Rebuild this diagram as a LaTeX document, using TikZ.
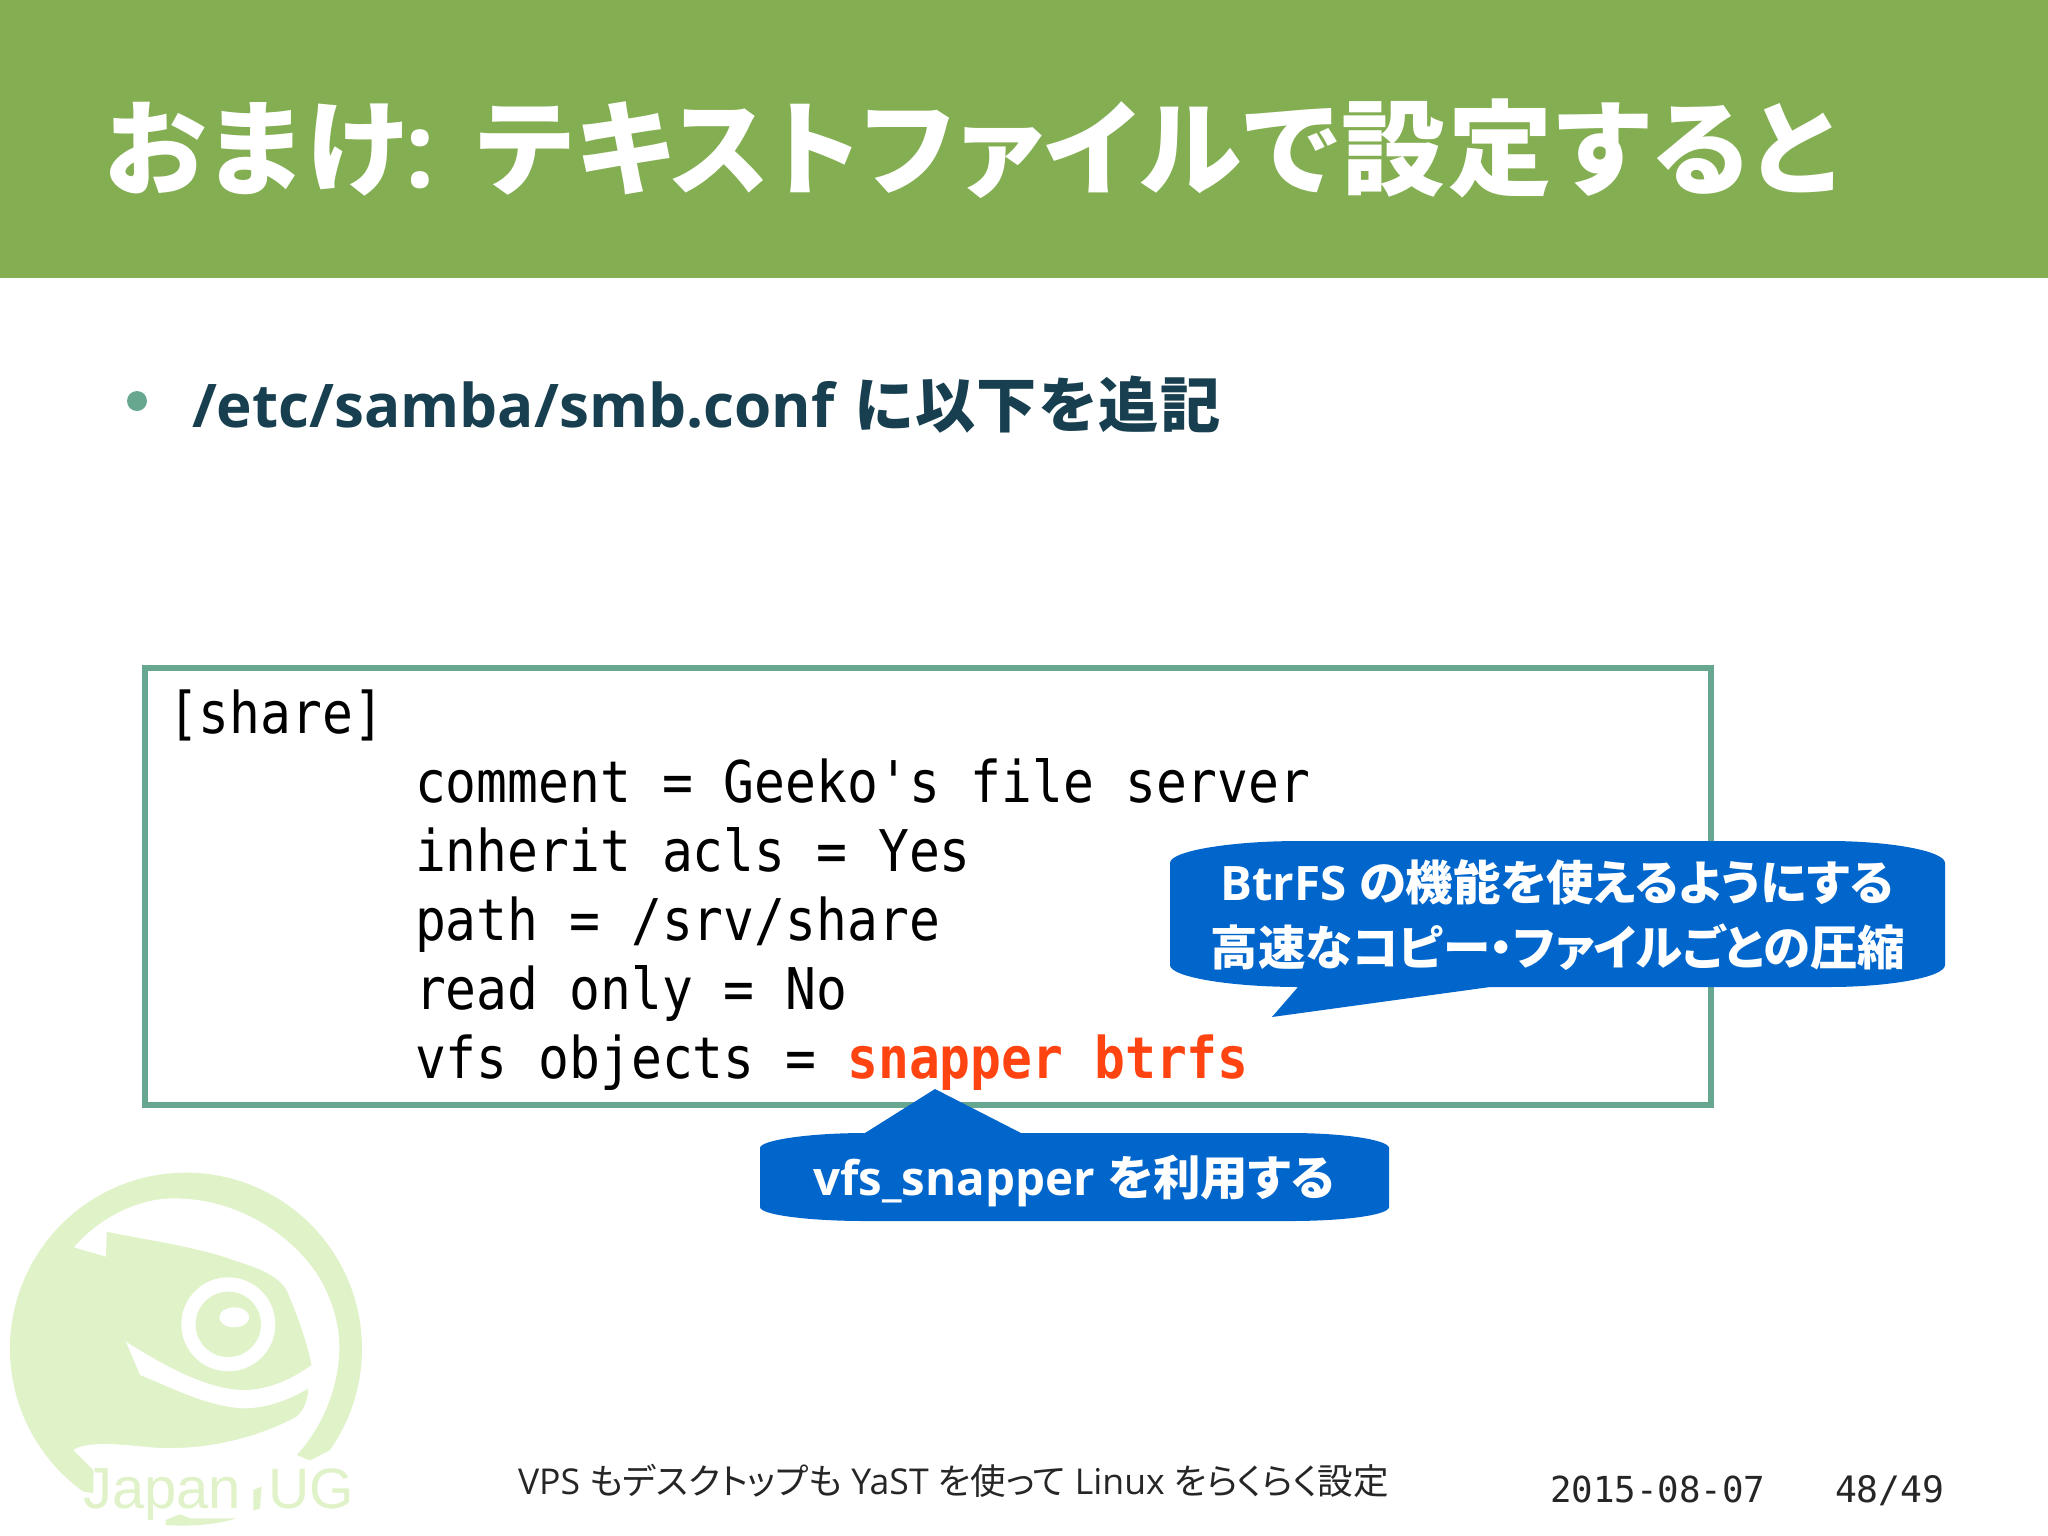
\documentclass[tikz,border=0pt]{standalone}
\usepackage{fontspec}
\setmainfont{Open Sans}
\newfontfamily\logofont{Liberation Sans}
\newfontfamily\cjk[RawFeature=+palt]{Noto Sans CJK JP}
\newfontfamily\cjkw[RawFeature=+palt,LetterSpace=2.8]{Noto Sans CJK JP}
\newfontfamily\mono[FakeStretch=0.892]{DejaVu Sans Mono}
\newfontfamily\monob[FakeStretch=0.892]{DejaVu Sans Mono Bold}
\newfontfamily\monop{DejaVu Sans Mono}
\newcommand{\J}[1]{{\cjk #1}}
\newcommand{\W}[1]{{\cjkw #1}}
\newcommand{\fs}[1]{\fontsize{#1}{#1}\selectfont}
\definecolor{headgreen}{HTML}{83AE52}
\definecolor{boxgreen}{HTML}{67A78F}
\definecolor{navy}{HTML}{173F4F}
\definecolor{callblue}{HTML}{0066CC}
\definecolor{hot}{HTML}{FF4411}
\definecolor{logo}{HTML}{E0F2C8}
\tikzset{
  txt/.style={inner sep=0pt,outer sep=0pt,anchor=base west},
  code/.style={txt,text=black,font=\mono\fs{57.5}},
  call/.style={txt,anchor=center,text=white,font=\bfseries\fs{47.5}},
  callshape/.style={fill=callblue,draw=none}
}
\begin{document}
\begin{tikzpicture}[x=1pt,y=-1pt]
\useasboundingbox (0,0) rectangle (2048,1535);
\fill[white] (0,0) rectangle (2048,1535);
\fill[headgreen] (0,0) rectangle (2048,278);
\node[txt,text=white,font=\bfseries\fs{104}] (title) at (105,187) {\W{おまけ}:\hspace{6pt} \W{テキストファイルで設定すると}};
\fill[boxgreen] (137,401) circle (10);
\node[txt,text=navy,font=\bfseries\fs{60.2}] (item) at (192,427) {/etc/samba/smb.conf\hspace{5pt} \W{に以下を追記}};
% logo
\begin{scope}[shift={(0,1130)},x=0.3333pt,y=-0.3333pt]
\fill[logo] (558,656) circle (528);
\fill[white] (222,352) .. controls (300,260) and (420,205) .. (520,205)
  .. controls (700,205) and (860,300) .. (950,430)
  .. controls (1000,510) and (1018,590) .. (1018,650)
  .. controls (1018,780) and (960,900) .. (890,975)
  -- (930,992) -- (992,960) -- (1120,1000) -- (1120,1215) -- (180,1215) -- (180,1085) -- (250,1085) -- (280,1090) -- (280,1020) -- (220,960)
  .. controls (260,935) and (340,940) .. (450,952)
  .. controls (620,965) and (780,920) .. (890,860)
  .. controls (915,840) and (925,800) .. (925,775)
  .. controls (860,815) and (790,835) .. (730,835)
  .. controls (620,830) and (510,770) .. (420,735)
  -- (378,635)
  .. controls (480,700) and (620,780) .. (730,780)
  .. controls (810,780) and (880,745) .. (935,705)
  .. controls (920,630) and (890,550) .. (860,480)
  .. controls (830,430) and (760,410) .. (700,390)
  .. controls (590,350) and (440,330) .. (320,305)
  -- (318,380) -- cycle;
\fill[white] (685,583) circle (141);
\fill[logo] (685,583) circle (98);
\fill[white] (703,562) ellipse (45 and 30);
\fill[logo] (497,1170) -- (540,1153) -- (570,1165) -- (710,1165) .. controls (650,1185) and (560,1190) .. (497,1185) -- cycle;
\fill[logo] (760,1080) -- (785,1070) -- (780,1135) -- (760,1142) -- cycle;
\end{scope}
\node[txt,text=logo,font=\logofont\fs{58}] (japan) at (83,1508) {Japan};
\node[txt,text=logo,font=\logofont\fs{57}] (ug) at (268,1508) {UG};
% code box
\draw[boxgreen,line width=5.5] (145,668) rectangle (1711,1105);
\node[code] (l0) at (168,733.5) {[share]};
\node[code] (l1) at (415,802) {comment = Geeko's file server};
\node[code] (l2) at (415,871) {inherit acls = Yes};
\node[code] (l3) at (415,940) {path = /srv/share};
\node[code] (l4) at (415,1009) {read only = No};
\node[code] (l5) at (415,1078) {vfs objects = {\monob\color{hot}snapper btrfs}};
% callouts
\fill[callshape] (1170,863) .. controls (1170,851) and (1230,841) .. (1300,841) -- (1829,841)
  .. controls (1890,841) and (1945,851) .. (1945,863) -- (1945,965)
  .. controls (1945,977) and (1890,987) .. (1829,987) -- (1490,987) -- (1272,1017) -- (1298,987) -- (1300,987)
  .. controls (1230,987) and (1170,977) .. (1170,965) -- cycle;
\node[call] (c1a) at (1557,882) {BtrFS \J{の機能を使えるようにする}};
\node[call] (c1b) at (1558,947) {\J{高速なコピー・ファイルごとの圧縮}};
\fill[callshape] (760,1148) .. controls (760,1140) and (810,1133) .. (865,1133) -- (935,1089) -- (1021,1133) -- (1290,1133)
  .. controls (1345,1133) and (1389,1140) .. (1389,1148) -- (1389,1207)
  .. controls (1389,1215) and (1345,1221) .. (1290,1221) -- (865,1221)
  .. controls (810,1221) and (760,1215) .. (760,1207) -- cycle;
\node[call] (c2) at (1074,1181) {vfs\_snapper \J{を利用する}};
% footer
\node[txt,text=black!85,font=\fs{35.6}] (foot) at (518,1494) {VPS \J{もデスクトップも} YaST \J{を使って} Linux \J{をらくらく設定}};
\node[txt,text=black!85,font=\monop\fs{35.8}] (date) at (1550,1502) {2015-08-07};
\node[txt,text=black!85,font=\monop\fs{36.4}] (page) at (1835,1502) {48/49};
\end{tikzpicture}
\end{document}
